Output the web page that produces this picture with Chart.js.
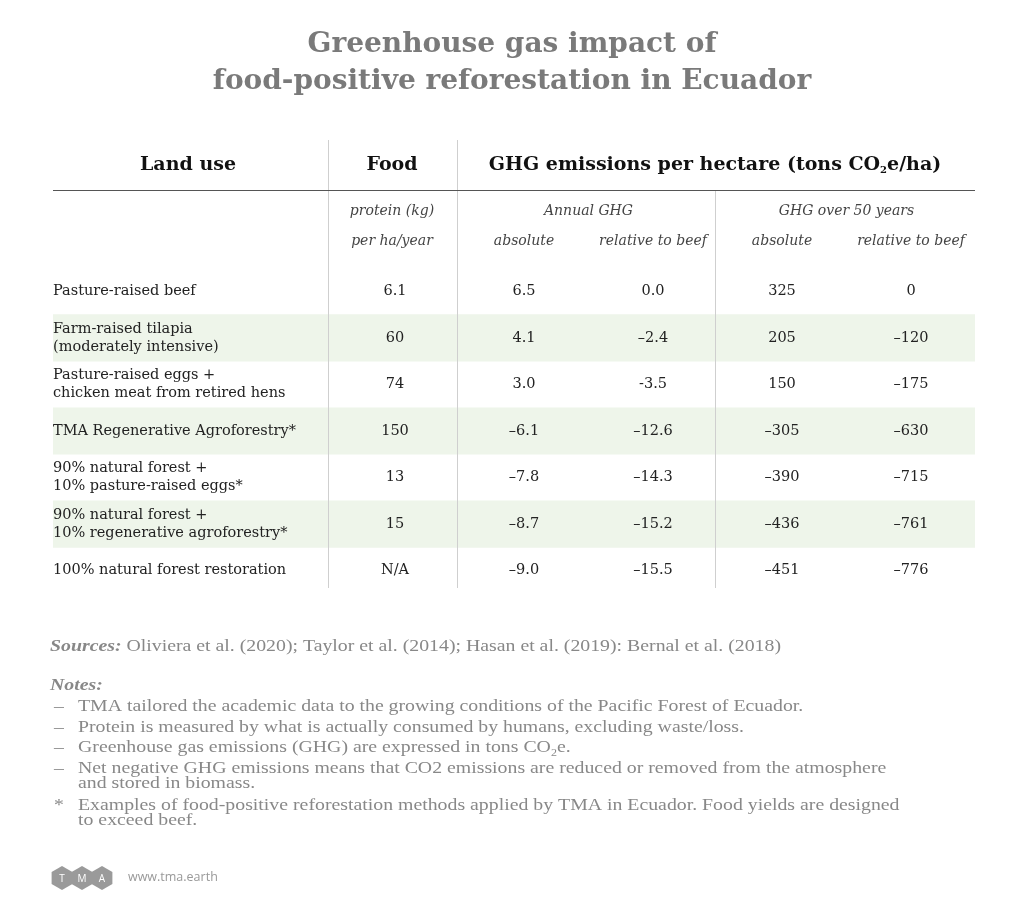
<!DOCTYPE html>
<html><head><meta charset="utf-8">
<script src="https://cdn.jsdelivr.net/npm/chart.js@4"></script>
<style>body{margin:0;background:#fff}canvas{display:block}</style>
</head><body><canvas id="c" width="1024" height="923"></canvas>
<script>
const landUse = [["Pasture-raised beef"],["Farm-raised tilapia","(moderately intensive)"],["Pasture-raised eggs +","chicken meat from retired hens"],["TMA Regenerative Agroforestry*"],["90% natural forest +","10% pasture-raised eggs*"],["90% natural forest +","10% regenerative agroforestry*"],["100% natural forest restoration"]];
const protein = ["6.1","60","74","150","13","15","N/A"];
const annualAbs = ["6.5","4.1","3.0","\u20136.1","\u20137.8","\u20138.7","\u20139.0"];
const annualRel = ["0.0","\u20132.4","-3.5","\u201312.6","\u201314.3","\u201315.2","\u201315.5"];
const fiftyAbs = ["325","205","150","\u2013305","\u2013390","\u2013436","\u2013451"];
const fiftyRel = ["0","\u2013120","\u2013175","\u2013630","\u2013715","\u2013761","\u2013776"];
const shaded = [false,true,false,true,false,true,false];
const rowKeys = landUse.map((l,i)=>'r'+i);
const XMIN=-1.651, XMAX=5.496;
const SERIF='"DejaVu Serif", serif';

function sub(ctx, parts, x, y, align, f){
  f=f||0.6;
  let w=0; const base=ctx.font;
  const subFont=base.replace(/([\d.]+)px/, (m,n)=>Math.round(n*f)+'px');
  parts.forEach(p=>{ctx.font=p[1]?subFont:base; w+=ctx.measureText(p[0]).width;});
  let cx = align==='center'? x-w/2 : x;
  ctx.textAlign='left';
  parts.forEach(p=>{ctx.font=p[1]?subFont:base; ctx.fillText(p[0],cx,y+(p[1]?5:0)); cx+=ctx.measureText(p[0]).width;});
  ctx.font=base;
}

const tablePlugin={id:'table',afterDatasetsDraw(chart){
  const ctx=chart.ctx, xs=chart.scales.x, ys=chart.scales.y;
  ctx.save(); ctx.textBaseline='middle';
  ctx.fillStyle='#7a7a7a'; ctx.font='bold 28px '+SERIF; ctx.textAlign='center';
  ctx.fillText('Greenhouse gas impact of',512,45);
  ctx.fillText('food-positive reforestation in Ecuador',512,82);
  ctx.strokeStyle='#cfcfcf'; ctx.lineWidth=1;
  [[0.48,140],[1.48,140],[3.48,190]].forEach(([v,t])=>{const px=Math.round(xs.getPixelForValue(v))+0.5;ctx.beginPath();ctx.moveTo(px,t);ctx.lineTo(px,588);ctx.stroke();});
  ctx.strokeStyle='#555'; ctx.beginPath(); ctx.moveTo(xs.left,190.5); ctx.lineTo(xs.right,190.5); ctx.stroke();
  ctx.fillStyle='#111'; ctx.font='bold 19px '+SERIF; ctx.textAlign='center';
  ctx.fillText('Land use',188,165); ctx.fillText('Food',xs.getPixelForValue(1)-3,165);
  sub(ctx,[['GHG emissions per hectare (tons CO',0],['2',1],['e/ha)',0]],715,165,'center',0.55);
  ctx.fillStyle='#444'; ctx.font='italic 14px '+SERIF; ctx.textAlign='center';
  ctx.fillText('protein (kg)',xs.getPixelForValue(1)-3,211); ctx.fillText('per ha/year',xs.getPixelForValue(1)-3,241);
  ctx.fillText('Annual GHG',xs.getPixelForValue(2.5),211); ctx.fillText('GHG over 50 years',xs.getPixelForValue(4.5),211);
  [2,3,4,5].forEach(i=>ctx.fillText(i%2?'relative to beef':'absolute',xs.getPixelForValue(i),241));
  ctx.fillStyle='#222'; ctx.font='14.5px '+SERIF;
  const cols=[protein,annualAbs,annualRel,fiftyAbs,fiftyRel];
  rowKeys.forEach((k,i)=>{
    const y=ys.getPixelForValue(k);
    ctx.textAlign='left';
    const L=landUse[i];
    if(L.length===1) ctx.fillText(L[0],xs.getPixelForValue(XMIN),y);
    else {ctx.fillText(L[0],xs.getPixelForValue(XMIN),y-9);ctx.fillText(L[1],xs.getPixelForValue(XMIN),y+9);}
    ctx.textAlign='center';
    cols.forEach((c,j)=>ctx.fillText(c[i],xs.getPixelForValue(j+1),y));
  });
  // footer (horizontally stretched Liberation Serif)
  const SX=1.2;
  ctx.save(); ctx.scale(SX,1);
  const X=v=>v/SX;
  ctx.textAlign='left'; ctx.fillStyle='#888'; ctx.font='italic bold 16.5px "Liberation Serif", serif';
  ctx.fillText('Sources:',X(50),647);
  const sw=ctx.measureText('Sources: ').width;
  ctx.font='16.5px "Liberation Serif", serif';
  ctx.fillText('Oliviera et al. (2020); Taylor et al. (2014); Hasan et al. (2019): Bernal et al. (2018)',X(50)+sw,647);
  ctx.font='italic bold 16.5px "Liberation Serif", serif'; ctx.fillText('Notes:',X(50),686);
  ctx.font='16.5px "Liberation Serif", serif';
  const notes=[['\u2013',[['TMA tailored the academic data to the growing conditions of the Pacific Forest of Ecuador.',0]],707],
   ['\u2013',[['Protein is measured by what is actually consumed by humans, excluding waste/loss.',0]],728],
   ['\u2013',[['Greenhouse gas emissions (GHG) are expressed in tons CO',0],['2',1],['e.',0]],748]];
  notes.forEach(n=>{ctx.fillText(n[0],X(54),n[2]); sub(ctx,n[1],X(78),n[2],'left');});
  ctx.fillText('\u2013',X(54),769);
  ctx.fillText('Net negative GHG emissions means that CO2 emissions are reduced or removed from the atmosphere',X(78),769);
  ctx.fillText('and stored in biomass.',X(78),784);
  ctx.fillText('*',X(54),806);
  ctx.fillText('Examples of food-positive reforestation methods applied by TMA in Ecuador. Food yields are designed',X(78),806);
  ctx.fillText('to exceed beef.',X(78),821);
  ctx.restore();
  ['T','M','A'].forEach((t,i)=>{
    const cx=62+i*20, cy=878, r=12;
    ctx.fillStyle='#9a9a9a'; ctx.beginPath();
    for(let a=0;a<6;a++){const ang=Math.PI/3*a+Math.PI/6; const px=cx+r*Math.cos(ang),py=cy+r*Math.sin(ang); a?ctx.lineTo(px,py):ctx.moveTo(px,py);}
    ctx.closePath(); ctx.fill();
    ctx.fillStyle='#fff'; ctx.font='10px "Open Sans", sans-serif'; ctx.textAlign='center'; ctx.fillText(t,cx,cy+1);
  });
  ctx.textAlign='left'; ctx.fillStyle='#999'; ctx.font='12.5px "Open Sans", sans-serif'; ctx.fillText('www.tma.earth',128,877);
  ctx.restore();
}};

new Chart(document.getElementById('c'),{
  type:'bar',
  data:{labels:rowKeys,datasets:[{data:shaded.map(s=>s?[XMIN,XMAX]:null),backgroundColor:'#eef5ea',borderWidth:0,barPercentage:1,categoryPercentage:1}]},
  options:{indexAxis:'y',responsive:false,animation:false,events:[],
    layout:{padding:{left:53,right:49,top:268,bottom:329}},
    plugins:{legend:{display:false},tooltip:{enabled:false}},
    scales:{x:{type:'linear',min:XMIN,max:XMAX,display:false},y:{type:'category',display:false}}},
  plugins:[tablePlugin]
});
</script></body></html>
